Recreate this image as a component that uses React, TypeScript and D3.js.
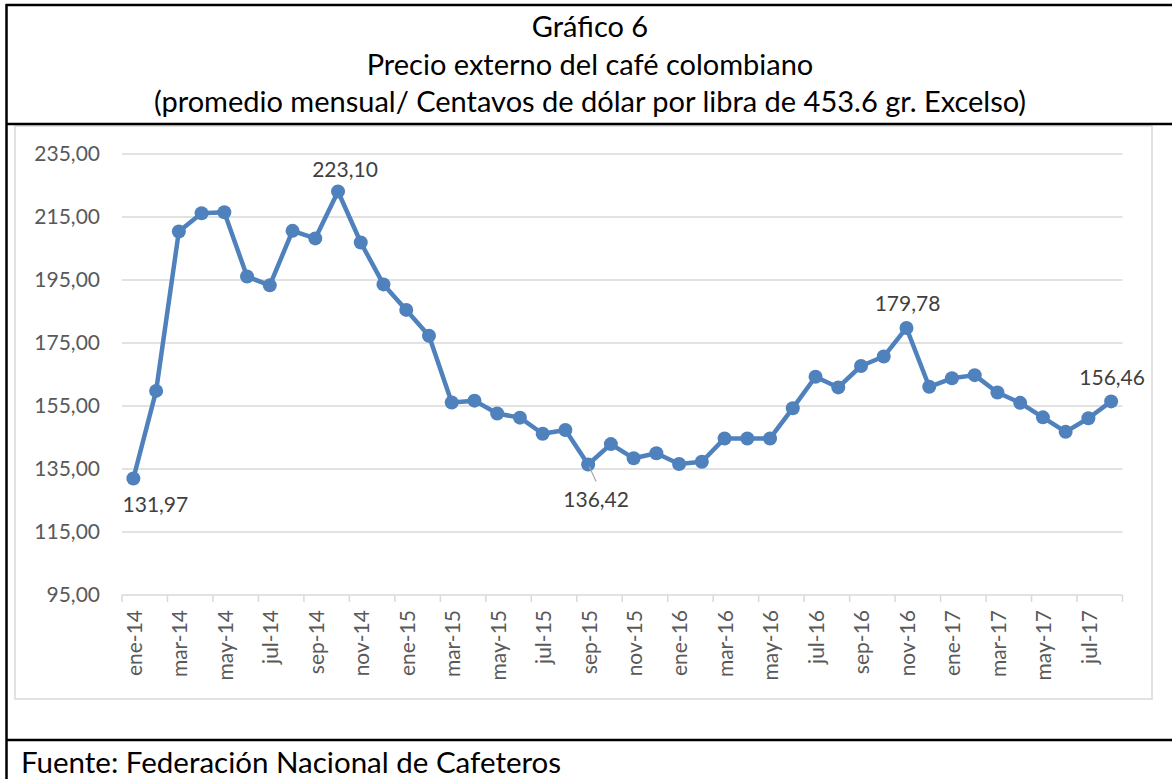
import React from "react";
import * as d3 from "d3";

// monthly categories, Jan 2014 .. Aug 2017
const months = [
  "ene-14", "feb-14", "mar-14", "abr-14", "may-14", "jun-14", "jul-14", "ago-14", "sep-14", "oct-14", "nov-14", "dic-14",
  "ene-15", "feb-15", "mar-15", "abr-15", "may-15", "jun-15", "jul-15", "ago-15", "sep-15", "oct-15", "nov-15", "dic-15",
  "ene-16", "feb-16", "mar-16", "abr-16", "may-16", "jun-16", "jul-16", "ago-16", "sep-16", "oct-16", "nov-16", "dic-16",
  "ene-17", "feb-17", "mar-17", "abr-17", "may-17", "jun-17", "jul-17", "ago-17",
];

// cents of dollar per pound (promedio mensual)
const prices = [
  131.97, 159.8, 210.4, 216.2, 216.5, 196.1, 193.3, 210.6, 208.2, 223.1, 206.9, 193.6,
  185.5, 177.3, 156.1, 156.7, 152.6, 151.3, 146.2, 147.4, 136.42, 142.9, 138.4, 140.0,
  136.6, 137.3, 144.7, 144.7, 144.7, 154.3, 164.3, 160.9, 167.7, 170.7, 179.78, 161.1,
  163.8, 164.8, 159.3, 156.0, 151.4, 146.8, 151.1, 156.46,
];

const yTicks = [95, 115, 135, 155, 175, 195, 215, 235];

// points that carry a data label
const labeledPoints = [0, 9, 20, 34, 43];

const titleLines = [
  "Gráfico 6",
  "Precio externo del café colombiano",
  "(promedio mensual/ Centavos de dólar por libra de 453.6 gr. Excelso)",
];
const sourceText = "Fuente: Federación Nacional de Cafeteros";

const W = 1172;
const H = 779;
const FONT = "Lato, 'Open Sans', sans-serif";
const BLUE = "#4F81BD";

const fmt = d3.formatLocale({
  decimal: ",",
  thousands: ".",
  grouping: [3],
  currency: ["", ""],
}).format(".2f");

const App: React.FC = () => {
  const plot = { left: 122, right: 1122.5, top: 154, bottom: 595 };

  const x = d3.scaleBand<string>().domain(months).range([plot.left, plot.right]).padding(0);
  const bw = x.bandwidth();
  const cx = (i: number) => (x(months[i]) as number) + bw / 2;
  const y = d3.scaleLinear().domain([95, 235]).range([plot.bottom, plot.top]);

  const line = d3
    .line<number>()
    .x((_, i) => cx(i))
    .y((d) => y(d));

  // label placement relative to the point (Excel-ish)
  const labelPos = (i: number) => {
    const px = cx(i);
    const py = y(prices[i]);
    if (i === 0) return { lx: px + 22, ly: py + 26, leader: false };
    if (i === 20) return { lx: px + 8, ly: py + 35, leader: true };
    if (i === 9) return { lx: px + 7, ly: py - 22, leader: false };
    return { lx: px + 1, ly: py - 24, leader: false };
  };

  const tickIdx = d3.range(0, months.length + 1, 2);

  return (
    <svg
      width={W}
      height={H}
      style={{ position: "absolute", left: 0, top: 0, background: "#fff" }}
      fontFamily={FONT}
    >
      {/* title lines */}
      {titleLines.map((t, i) => (
        <text key={t} x={590} y={37 + i * 37.5} textAnchor="middle" fontSize={29} fill="#000">
          {t}
        </text>
      ))}

      {/* chart area */}
      <rect x={15} y={126} width={1137} height={573} fill="#fff" stroke="#D9D9D9" strokeWidth={1.5} />

      {/* gridlines + y labels */}
      {yTicks.map((t) => (
        <g key={t}>
          <line x1={plot.left} x2={plot.right} y1={y(t)} y2={y(t)} stroke="#D9D9D9" strokeWidth={1.5} />
          <text x={100} y={y(t)} dy="0.35em" textAnchor="end" fontSize={21} fill="#595959">
            {fmt(t)}
          </text>
        </g>
      ))}

      {/* x axis ticks */}
      {tickIdx.map((i) => {
        const tx = plot.left + i * bw;
        return <line key={i} x1={tx} x2={tx} y1={plot.bottom} y2={plot.bottom + 7} stroke="#D9D9D9" strokeWidth={1.5} />;
      })}
      {months.map((m, i) =>
        i % 2 === 0 ? (
          <text
            key={m}
            transform={`translate(${cx(i) + 1},${plot.bottom + 15}) rotate(-90)`}
            dy="0.35em"
            textAnchor="end"
            fontSize={21}
            fill="#595959"
          >
            {m}
          </text>
        ) : null
      )}

      {/* series */}
      <path d={line(prices) || ""} fill="none" stroke={BLUE} strokeWidth={4.5} strokeLinejoin="round" />
      {prices.map((v, i) => (
        <circle key={i} cx={cx(i)} cy={y(v)} r={7} fill={BLUE} />
      ))}

      {/* data labels */}
      {labeledPoints.map((i) => {
        const { lx, ly, leader } = labelPos(i);
        return (
          <g key={i}>
            {leader && (
              <line x1={cx(i) + 1} y1={y(prices[i]) + 2} x2={lx} y2={ly - 18} stroke="#A6A6A6" strokeWidth={1.2} />
            )}
            <text x={lx} y={ly} dy="0.35em" textAnchor="middle" fontSize={21} fill="#404040">
              {fmt(prices[i])}
            </text>
          </g>
        );
      })}

      {/* table borders */}
      <line x1={6} x2={W} y1={5} y2={5} stroke="#000" strokeWidth={2.5} />
      <line x1={6.5} x2={6.5} y1={4} y2={H} stroke="#000" strokeWidth={2.5} />
      <line x1={6} x2={W} y1={124} y2={124} stroke="#000" strokeWidth={2.5} />
      <line x1={6} x2={W} y1={740} y2={740} stroke="#000" strokeWidth={2.5} />

      <text x={21} y={773} fontSize={29.5} fill="#000">
        {sourceText}
      </text>
    </svg>
  );
};

export default App;
